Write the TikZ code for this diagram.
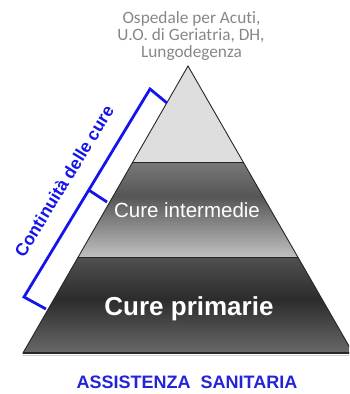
\documentclass[tikz,border=0pt]{standalone}
\usepackage{fontspec}
\setmainfont{Liberation Sans}
\newfontfamily\calfont[Ligatures=NoCommon]{Carlito}
\usetikzlibrary{calc}
\definecolor{toptext}{RGB}{135,135,135}
\definecolor{topfill}{RGB}{222,222,222}
\definecolor{mbT}{RGB}{120,120,120}
\definecolor{mbD}{RGB}{86,86,86}
\definecolor{mbB}{RGB}{192,192,192}
\definecolor{bbT}{RGB}{80,80,80}
\definecolor{bbD}{RGB}{44,44,44}
\definecolor{bbB}{RGB}{104,104,104}
\definecolor{bracketblue}{RGB}{20,20,235}
\definecolor{labelblue}{RGB}{35,35,215}
\pgfdeclareverticalshading{midband}{100bp}{color(0bp)=(mbB); color(25bp)=(mbB); color(57bp)=(mbD); color(75bp)=(mbT); color(100bp)=(mbT)}
\pgfdeclareverticalshading{botband}{100bp}{color(0bp)=(bbB); color(25bp)=(bbB); color(53bp)=(bbD); color(75bp)=(bbT); color(100bp)=(bbT)}
\tikzset{
  outline/.style={draw=black!85, line width=0.9pt, line join=miter},
  bandtext/.style={text=white, inner sep=0pt, anchor=base},
  toplabel/.style={text=toptext, font=\calfont\fontsize{17.3}{17.3}\selectfont, anchor=base, inner sep=0pt},
  bracket/.style={draw=bracketblue, line width=2.8pt, line join=miter},
}
\begin{document}
\begin{tikzpicture}[x=1pt,y=-1pt]
\useasboundingbox (0,0) rectangle (349,394);
\clip (0,0) rectangle (349,394);
% pyramid corners
\coordinate (A) at (188,66);
\coordinate (L1) at (132.8,162);
\coordinate (R1) at (243.2,162);
\coordinate (L2) at (78.2,257);
\coordinate (R2) at (297.8,257);
\coordinate (BL) at (23,353);
\coordinate (BR) at (353,353);
% bands
\fill[topfill] (A) -- (R1) -- (L1) -- cycle;
\shade[shading=midband] (L1) -- (R1) -- (R2) -- (L2) -- cycle;
\shade[shading=botband] (L2) -- (R2) -- (BR) -- (BL) -- cycle;
\draw[black!20, line width=1pt] ($(BL)+(0,2.2)$) -- ($(BR)+(0,2.2)$);
\draw[outline] (A) -- (BR) -- (BL) -- cycle;
\draw[outline] (L1) -- (R1);
\draw[outline] (L2) -- (R2);
\draw[black!85, line width=1.6pt] (BL) -- (BR);
% texts
\node[toplabel] (top1) at (191.5,23) {Ospedale per Acuti,};
\node[toplabel] (top2) at (191,40) {U.O. di Geriatria, DH,};
\node[toplabel] (top3) at (191.5,57) {Lungodegenza};
\node[bandtext, font=\fontsize{20.5}{20.5}\selectfont] (mid) at (187,217) {Cure intermedie};
\node[bandtext, font=\bfseries\fontsize{26}{26}\selectfont] (bot) at (189,315) {Cure primarie};
\node[text=labelblue, font=\bfseries\fontsize{18}{18}\selectfont, anchor=base, inner sep=0pt] (label) at (187,388) {ASSISTENZA\ \ SANITARIA};
% bracket
\coordinate (bt) at (150,89);
\coordinate (btE) at (167,103);
\coordinate (bb) at (24,297);
\coordinate (bbE) at (46,309);
\coordinate (bm) at ($(bb)!0.514!(bt)$);
\coordinate (bmE) at (107,202);
\draw[bracket] (btE) -- (bt) -- (bb) -- (bbE);
\draw[bracket] (bm) -- (bmE);
\node[text=bracketblue, font=\bfseries\fontsize{17.5}{17.5}\selectfont, rotate=58.5, inner sep=0pt] (cont) at (64,181) {Continuità delle cure};
\end{tikzpicture}
\end{document}
